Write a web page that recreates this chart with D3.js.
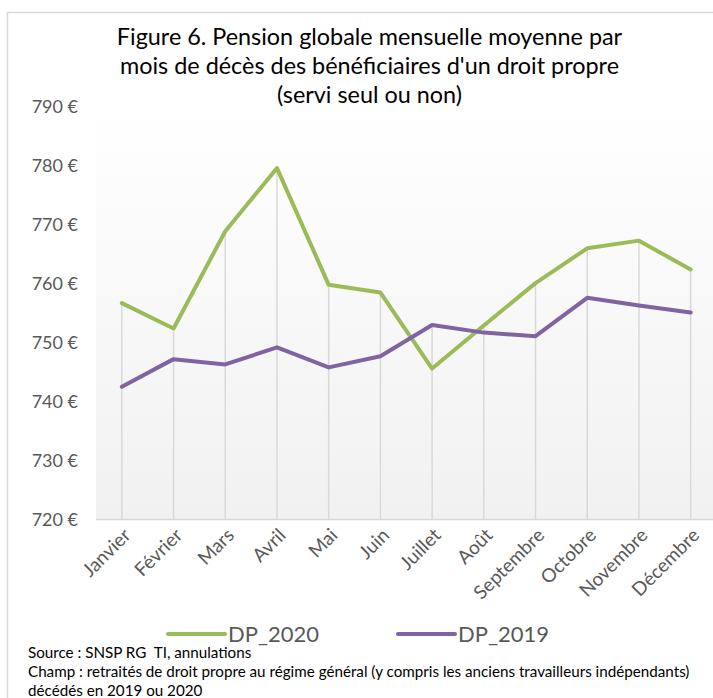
<!DOCTYPE html>
<html><head><meta charset="utf-8">
<script src="https://cdn.jsdelivr.net/npm/d3@7"></script>
<style>body{margin:0;background:#fff;} svg{display:block;}</style>
</head><body>
<svg id="c" width="713" height="698"></svg>
<script>
const months = ["Janvier","Février","Mars","Avril","Mai","Juin","Juillet","Août","Septembre","Octobre","Novembre","Décembre"];
const dp2020 = [756.7,752.4,768.9,779.6,759.8,758.5,745.6,752.9,760.1,766.0,767.3,762.4];
const dp2019 = [742.5,747.2,746.3,749.2,745.8,747.7,753.0,751.7,751.1,757.6,756.3,755.1];
const yTicks = [720,730,740,750,760,770,780,790];
const titleLines = ["Figure 6. Pension globale mensuelle moyenne par","mois de décès des bénéficiaires d'un droit propre","(servi seul ou non)"];
const seriesNames = ["DP_2020","DP_2019"];
const colors = ["#9bbb59","#8064a2"];
const notes = ["Source : SNSP RG  TI, annulations","Champ : retraités de droit propre au régime général (y compris les anciens travailleurs indépendants)","décédés en 2019 ou 2020"];

const FONT = "Lato, 'Open Sans', sans-serif";
const svg = d3.select("#c");

// chart border
svg.append("rect").attr("x",7.5).attr("y",12.5).attr("width",760).attr("height",760)
  .attr("fill","#fff").attr("stroke","#d9d9d9").attr("stroke-width",1.5);

const x = d3.scaleBand().domain(months).range([96,716.5]).padding(0);
const y = d3.scaleLinear().domain([720,790]).range([519.5,106.8]);
const cx = m => x(m) + x.bandwidth()/2;

// plot background gradient
const defs = svg.append("defs");
const g = defs.append("linearGradient").attr("id","bg").attr("x1",0).attr("y1",0).attr("x2",0).attr("y2",1);
g.append("stop").attr("offset","0%").attr("stop-color","#ffffff");
g.append("stop").attr("offset","100%").attr("stop-color","#f1f1f1");
svg.append("rect").attr("x",96).attr("y",y(790)).attr("width",620).attr("height",y(720)-y(790)).attr("fill","url(#bg)");

// title
svg.append("g").selectAll("text").data(titleLines).join("text")
  .attr("x",369.5).attr("y",(d,i)=>45+i*29).attr("text-anchor","middle")
  .attr("font-family",FONT).attr("font-size",23.4).attr("fill","#000").text(d=>d);

// drop lines
svg.append("g").selectAll("line").data(months).join("line")
  .attr("x1",cx).attr("x2",cx)
  .attr("y1",(d,i)=>y(Math.max(dp2020[i],dp2019[i]))).attr("y2",y(720))
  .attr("stroke","#d9d9d9").attr("stroke-width",1.5);

// axis line
svg.append("line").attr("x1",96).attr("x2",713).attr("y1",y(720)).attr("y2",y(720))
  .attr("stroke","#d9d9d9").attr("stroke-width",1.5);

// y labels
const yAxis = d3.axisLeft(y).tickValues(yTicks).tickSize(0).tickPadding(0).tickFormat(d=>d+" €");
const ya = svg.append("g").attr("transform","translate(78,0)").call(yAxis);
ya.select(".domain").remove();
ya.selectAll("text").attr("font-family",FONT).attr("font-size",18).attr("fill","#595959");

// x labels
const xAxis = d3.axisBottom(x).tickSize(0).tickPadding(0);
const xa = svg.append("g").attr("transform",`translate(0,${y(720)})`).call(xAxis);
xa.select(".domain").remove();
xa.selectAll("text").attr("font-family",FONT).attr("font-size",19).attr("fill","#595959")
  .attr("text-anchor","end").attr("dy",null).attr("y",0)
  .attr("transform","translate(10,17) rotate(-45)");

// lines
const line = d3.line().x((d,i)=>cx(months[i])).y(d=>y(d));
[dp2020,dp2019].forEach((s,k)=>{
  svg.append("path").datum(s).attr("d",line).attr("fill","none")
    .attr("stroke",colors[k]).attr("stroke-width",4).attr("stroke-linejoin","round").attr("stroke-linecap","round");
});

// legend
const lg = svg.append("g");
const lx = [168,398];
seriesNames.forEach((n,k)=>{
  lg.append("line").attr("x1",lx[k]).attr("x2",lx[k]+57).attr("y1",634).attr("y2",634)
    .attr("stroke",colors[k]).attr("stroke-width",4).attr("stroke-linecap","round");
  lg.append("text").attr("x",lx[k]+60).attr("y",642).attr("font-family",FONT).attr("font-size",22)
    .attr("fill","#595959").text(n);
});

// notes
svg.append("g").selectAll("text").data(notes).join("text")
  .attr("x",28).attr("y",(d,i)=>658+i*19).attr("font-family",FONT).attr("font-size",15.2)
  .style("white-space","pre").attr("fill","#000").text(d=>d);
</script>
</body></html>
